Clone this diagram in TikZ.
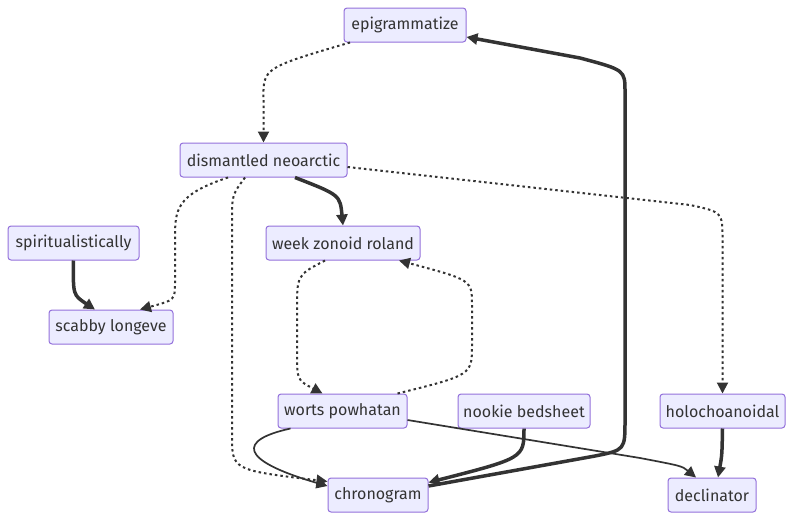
\documentclass[tikz,border=0pt]{standalone}
\usepackage{fontspec}
\setmainfont{Fira Sans}
\usetikzlibrary{arrows.meta,calc}
\definecolor{nfill}{HTML}{ECECFF}
\definecolor{nbord}{HTML}{9370DB}
\definecolor{edge}{HTML}{333333}
\definecolor{txt}{HTML}{333333}
\tikzset{
  box/.style={draw=nbord, fill=nfill, rounded corners=3pt, line width=1pt,
    minimum height=34pt, inner sep=0pt, text=txt,
    font=\fontsize{16}{19}\selectfont},
  tip/.style={-{Triangle[length=11pt,width=11pt]}},
  edg/.style={draw=edge, line width=1.7pt, tip},
  thk/.style={draw=edge, line width=3.5pt, tip},
  dtt/.style={draw=edge, line width=2pt, dash pattern=on 2.5pt off 3pt, tip},
}
\begin{document}
\begin{tikzpicture}[x=1pt,y=-1pt]
\useasboundingbox (0,0) rectangle (792,520);
\node[box, minimum width=122pt] (epi) at (405,25) {epigrammatize};
\node[box, minimum width=167pt] (dis) at (263.5,160) {dismantled neoarctic};
\node[box, minimum width=131pt] (spir) at (73.5,243) {spiritualistically};
\node[box, minimum width=154pt] (wzr) at (343,243) {week zonoid roland};
\node[box, minimum width=124pt] (scab) at (111,327) {scabby longeve};
\node[box, minimum width=129pt] (worts) at (342.5,411) {worts powhatan};
\node[box, minimum width=132pt] (nook) at (524,411) {nookie bedsheet};
\node[box, minimum width=125pt] (holo) at (722.5,411) {holochoanoidal};
\node[box, minimum width=100pt] (chr) at (378,495) {chronogram};
\node[box, minimum width=88pt] (decl) at (712,495) {declinator};

% epigrammatize -> dismantled neoarctic
\draw[dtt] ($(epi.south)+(-55,0)$) .. controls (263,68) .. (263.5,100) -- (dis.north);
% dismantled -> week zonoid roland
\draw[thk] ($(dis.south)+(31.5,0)$) .. controls (340,195) .. (wzr.north);
% dismantled -> scabby longeve
\draw[dtt] ($(dis.south)+(-35.5,0)$) .. controls (175,195) and (175,210) .. (175,240) -- (175,282) .. controls (175,300) .. ($(scab.north)+(29,0)$);
% dismantled -> chronogram
\draw[dtt] ($(dis.south)+(-18.5,0)$) .. controls (232,195) .. (232,222) -- (232,435) .. controls (232,470) .. ($(chr.north west)+(0,4)$);
% dismantled -> holochoanoidal
\draw[dtt] ($(dis.east)+(0,7)$) -- (690,205) .. controls (722.5,212) .. (722.5,240) -- (holo.north);
% spiritualistically -> scabby longeve
\draw[thk] (spir.south) .. controls (73,295) .. ($(scab.north)+(-16,0)$);
% week zonoid roland -> worts powhatan
\draw[dtt] ($(wzr.south)+(-18,0)$) .. controls (297,275) .. (297,310) -- (297,352) .. controls (297,380) .. ($(worts.north)+(-20,0)$);
% worts powhatan -> week zonoid roland
\draw[dtt] ($(worts.north)+(55,0)$) .. controls (472,375) .. (472,345) -- (472,305) .. controls (472,280) .. ($(wzr.south)+(56,0)$);
% worts powhatan -> chronogram
\draw[edg] ($(worts.south)+(-52,0)$) .. controls (238,440) and (238,460) .. ($(chr.west)+(0,-9)$);
% worts powhatan -> declinator
\draw[edg] ($(worts.east)+(0,9)$) -- (640,458) .. controls (682,466) .. ($(decl.north)+(-16,0)$);
% nookie bedsheet -> chronogram
\draw[thk] (nook.south) .. controls (524,458) .. ($(chr.north east)+(0,5)$);
% chronogram -> epigrammatize
\draw[thk] ($(chr.east)+(0,-9)$) -- (595,456) .. controls (625,450) .. (625,420) -- (625,92) .. controls (625,70) .. (580,58) -- ($(epi.east)+(0,12)$);
% holochoanoidal -> declinator
\draw[thk] (holo.south) .. controls (722,455) .. ($(decl.north)+(6,0)$);
\end{tikzpicture}
\end{document}
